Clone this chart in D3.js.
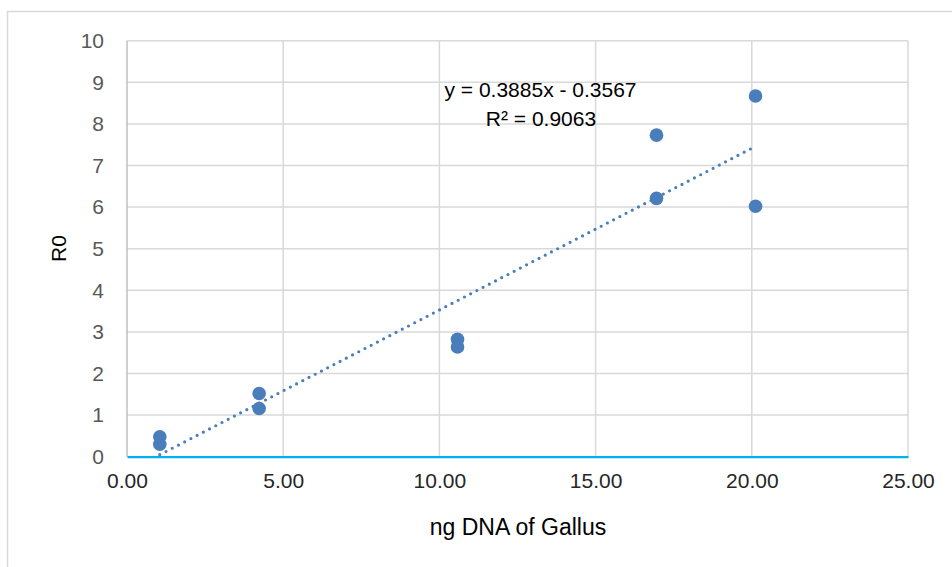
<!DOCTYPE html>
<html><head><meta charset="utf-8">
<script src="https://cdn.jsdelivr.net/npm/d3@7"></script>
<style>body{margin:0;background:#fff}svg{display:block;font-family:"Liberation Sans",Arial,sans-serif}</style>
</head><body><svg id="c" width="952" height="567"></svg>
<script>
const xValues = [1.05, 1.05, 4.23, 4.23, 10.58, 10.58, 16.95, 16.95, 20.12, 20.12];
const yValues = [0.48, 0.30, 1.52, 1.16, 2.82, 2.64, 7.73, 6.21, 8.67, 6.02];
const xTicks = [0, 5, 10, 15, 20, 25];
const yTicks = [0, 1, 2, 3, 4, 5, 6, 7, 8, 9, 10];
const eqLines = ["y = 0.3885x - 0.3567", "R² = 0.9063"];
const xTitle = "ng DNA of Gallus";
const yTitle = "R0";

const svg = d3.select("#c");
const m = {l:127, r:908, t:40.7, b:456.7};
const x = d3.scaleLinear().domain([0,25]).range([m.l, m.r]);
const y = d3.scaleLinear().domain([0,10]).range([m.b, m.t]);

// outer border
svg.append("rect").attr("x",7.5).attr("y",11.5).attr("width",960).attr("height",600)
  .attr("fill","none").attr("stroke","#d9d9d9").attr("stroke-width",1.5);

// gridlines
const g = svg.append("g");
g.selectAll("line.h").data(yTicks.filter(d=>d>0)).join("line")
  .attr("x1",m.l).attr("x2",m.r).attr("y1",d=>y(d)).attr("y2",d=>y(d))
  .attr("stroke","#d9d9d9").attr("stroke-width",1.5);
g.selectAll("line.v").data(xTicks.filter(d=>d>0)).join("line")
  .attr("y1",m.t).attr("y2",m.b).attr("x1",d=>x(d)).attr("x2",d=>x(d))
  .attr("stroke","#d9d9d9").attr("stroke-width",1.5);

// y axis line
svg.append("line").attr("x1",m.l).attr("x2",m.l).attr("y1",m.t).attr("y2",m.b)
  .attr("stroke","#bfbfbf").attr("stroke-width",1.5);

// x axis (cyan)
const xAxis = d3.axisBottom(x).tickValues(xTicks).tickFormat(d3.format(".2f")).tickSize(0).tickPadding(16);
const xa = svg.append("g").attr("transform",`translate(0,${m.b})`).call(xAxis);
xa.select(".domain").attr("stroke","#00b0f0").attr("stroke-width",2.2);
xa.selectAll("text").attr("font-size",21).attr("fill","#262626").attr("font-family","Liberation Sans, Arial, sans-serif");

const yAxis = d3.axisLeft(y).tickValues(yTicks).tickSize(0).tickPadding(23);
const ya = svg.append("g").attr("transform",`translate(${m.l},0)`).call(yAxis);
ya.select(".domain").remove();
ya.selectAll("text").attr("font-size",21).attr("fill","#595959").attr("font-family","Liberation Sans, Arial, sans-serif");

// trendline via least squares
const n = xValues.length;
const mx = d3.mean(xValues), my = d3.mean(yValues);
let sxy=0, sxx=0;
for(let i=0;i<n;i++){ sxy+=(xValues[i]-mx)*(yValues[i]-my); sxx+=(xValues[i]-mx)**2; }
const slope = sxy/sxx, icpt = my - slope*mx;
const x0 = d3.min(xValues), x1 = d3.max(xValues);
svg.append("line").attr("x1",x(x0)).attr("y1",y(slope*x0+icpt)).attr("x2",x(x1)).attr("y2",y(slope*x1+icpt))
  .attr("stroke","#4a7ebb").attr("stroke-width",3.2).attr("stroke-linecap","round").attr("stroke-dasharray","0 7");

// points
svg.selectAll("circle.p").data(xValues.map((v,i)=>[v,yValues[i]])).join("circle")
  .attr("cx",d=>x(d[0])).attr("cy",d=>y(d[1])).attr("r",6.8).attr("fill","#4a7ebb");

// equation
svg.append("text").attr("x",540.5).attr("y",97).attr("text-anchor","middle").attr("font-size",21).attr("fill","#000").text(eqLines[0]);
svg.append("text").attr("x",541).attr("y",126).attr("text-anchor","middle").attr("font-size",21).attr("fill","#000").text(eqLines[1]);

// titles
svg.append("text").attr("x",518).attr("y",535).attr("text-anchor","middle").attr("font-size",23).attr("fill","#000").text(xTitle);
svg.append("text").attr("transform","translate(66,248.5) rotate(-90)").attr("text-anchor","middle").attr("font-size",21).attr("fill","#000").text(yTitle);
</script></body></html>
